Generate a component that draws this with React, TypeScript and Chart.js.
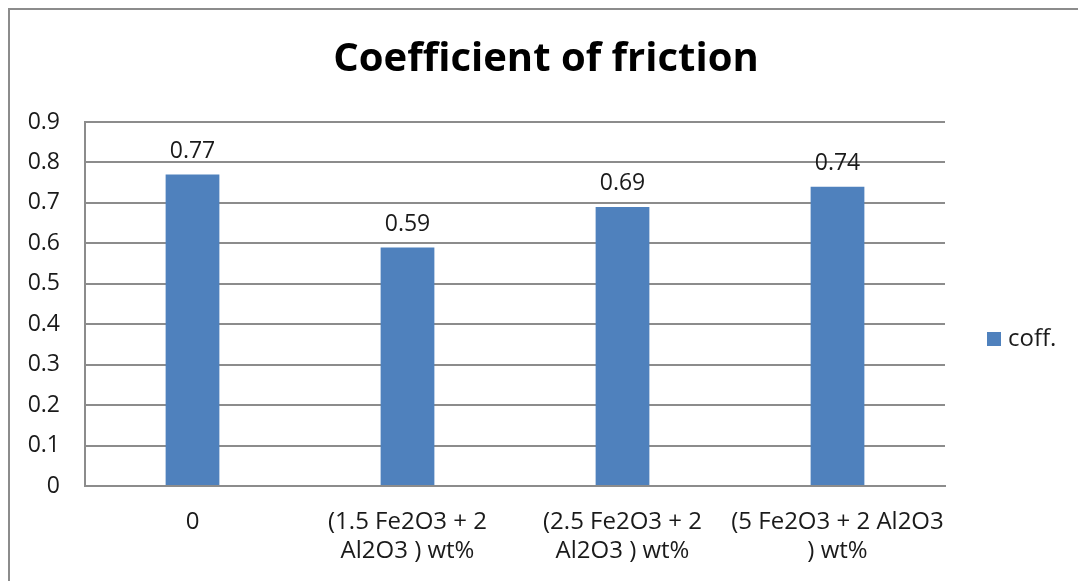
import React, { useEffect, useRef } from "react";
import { Chart, registerables } from "chart.js";

Chart.register(...registerables);

// Chart content
const chartTitle = "Coefficient of friction";
const seriesName = "coff.";
const categories: (string | string[])[] = [
  "0",
  ["(1.5 Fe2O3 + 2", "Al2O3 ) wt%"],
  ["(2.5 Fe2O3 + 2", "Al2O3 ) wt%"],
  ["(5 Fe2O3 + 2 Al2O3", ") wt%"],
];
const coffValues = [0.77, 0.59, 0.69, 0.74];
const yMin = 0;
const yMax = 0.9;
const yStep = 0.1;

const FONT = "'Open Sans', 'Noto Sans', sans-serif";
const BAR_COLOR = "#4F81BD";
const GRID_COLOR = "#8c8c8c";
const TEXT_COLOR = "#1a1a1a";

// Frame, title, value labels and legend drawn on the canvas
const decorPlugin = {
  id: "decor",
  beforeDraw(chart: any) {
    const { ctx, width, height } = chart;
    ctx.save();
    ctx.fillStyle = "#ffffff";
    ctx.fillRect(0, 0, width, height);
    ctx.strokeStyle = GRID_COLOR;
    ctx.lineWidth = 2;
    ctx.beginPath();
    ctx.moveTo(9, height);
    ctx.lineTo(9, 9);
    ctx.lineTo(width, 9);
    ctx.stroke();

    ctx.fillStyle = "#000000";
    ctx.font = `bold 40px ${FONT}`;
    ctx.textAlign = "center";
    ctx.textBaseline = "middle";
    if ("letterSpacing" in ctx) (ctx as any).letterSpacing = "0.01px";
    ctx.fillText(chartTitle, 546, 60);
    ctx.restore();
  },
  afterDatasetsDraw(chart: any) {
    const { ctx } = chart;
    const meta = chart.getDatasetMeta(0);
    const values = chart.data.datasets[0].data as number[];
    ctx.save();
    ctx.fillStyle = TEXT_COLOR;
    ctx.font = `23px ${FONT}`;
    ctx.textAlign = "center";
    ctx.textBaseline = "middle";
    meta.data.forEach((bar: any, i: number) => {
      ctx.fillText(String(values[i]), bar.x, bar.y - 23);
    });
    ctx.restore();
  },
  afterDraw(chart: any) {
    const { ctx } = chart;
    const ds = chart.data.datasets[0];
    ctx.save();
    ctx.fillStyle = ds.backgroundColor;
    ctx.fillRect(987, 332, 14, 14);
    ctx.fillStyle = TEXT_COLOR;
    ctx.font = `24px ${FONT}`;
    ctx.textAlign = "left";
    ctx.textBaseline = "middle";
    ctx.fillText(ds.label, 1008, 339);
    ctx.restore();
  },
};

export default function App() {
  const canvasRef = useRef<HTMLCanvasElement | null>(null);

  useEffect(() => {
    if (!canvasRef.current) return;
    const chart = new Chart(canvasRef.current, {
      type: "bar",
      data: {
        labels: categories,
        datasets: [
          {
            label: seriesName,
            data: coffValues,
            backgroundColor: BAR_COLOR,
            borderWidth: 0,
            barPercentage: 0.25,
            categoryPercentage: 1,
          },
        ],
      },
      options: {
        responsive: false,
        animation: false,
        layout: { padding: { top: 122, right: 133, bottom: 0, left: 0 } },
        plugins: {
          legend: { display: false },
          title: { display: false },
          tooltip: { enabled: false },
        },
        scales: {
          x: {
            grid: { display: false, drawTicks: false },
            border: { display: true, color: GRID_COLOR, width: 2 },
            ticks: {
              color: TEXT_COLOR,
              font: { family: FONT, size: 24, lineHeight: 1.21 },
              padding: 22,
              maxRotation: 0,
              autoSkip: false,
            },
            afterFit: (scale: any) => {
              scale.height = 95;
            },
          },
          y: {
            min: yMin,
            max: yMax,
            grid: { color: GRID_COLOR, lineWidth: 2, drawTicks: false },
            border: { display: true, color: GRID_COLOR, width: 2 },
            ticks: {
              stepSize: yStep,
              color: TEXT_COLOR,
              font: { family: FONT, size: 23 },
              padding: 25,
              callback: (v: any) => String(Number(Number(v).toFixed(1))),
            },
            afterFit: (scale: any) => {
              scale.width = 85;
            },
          },
        },
      },
      plugins: [decorPlugin],
    });
    return () => chart.destroy();
  }, []);

  return (
    <div style={{ position: "fixed", left: 0, top: 0, width: 1078, height: 581, background: "#fff" }}>
      <canvas ref={canvasRef} width={1078} height={581} style={{ width: 1078, height: 581, display: "block" }} />
    </div>
  );
}
